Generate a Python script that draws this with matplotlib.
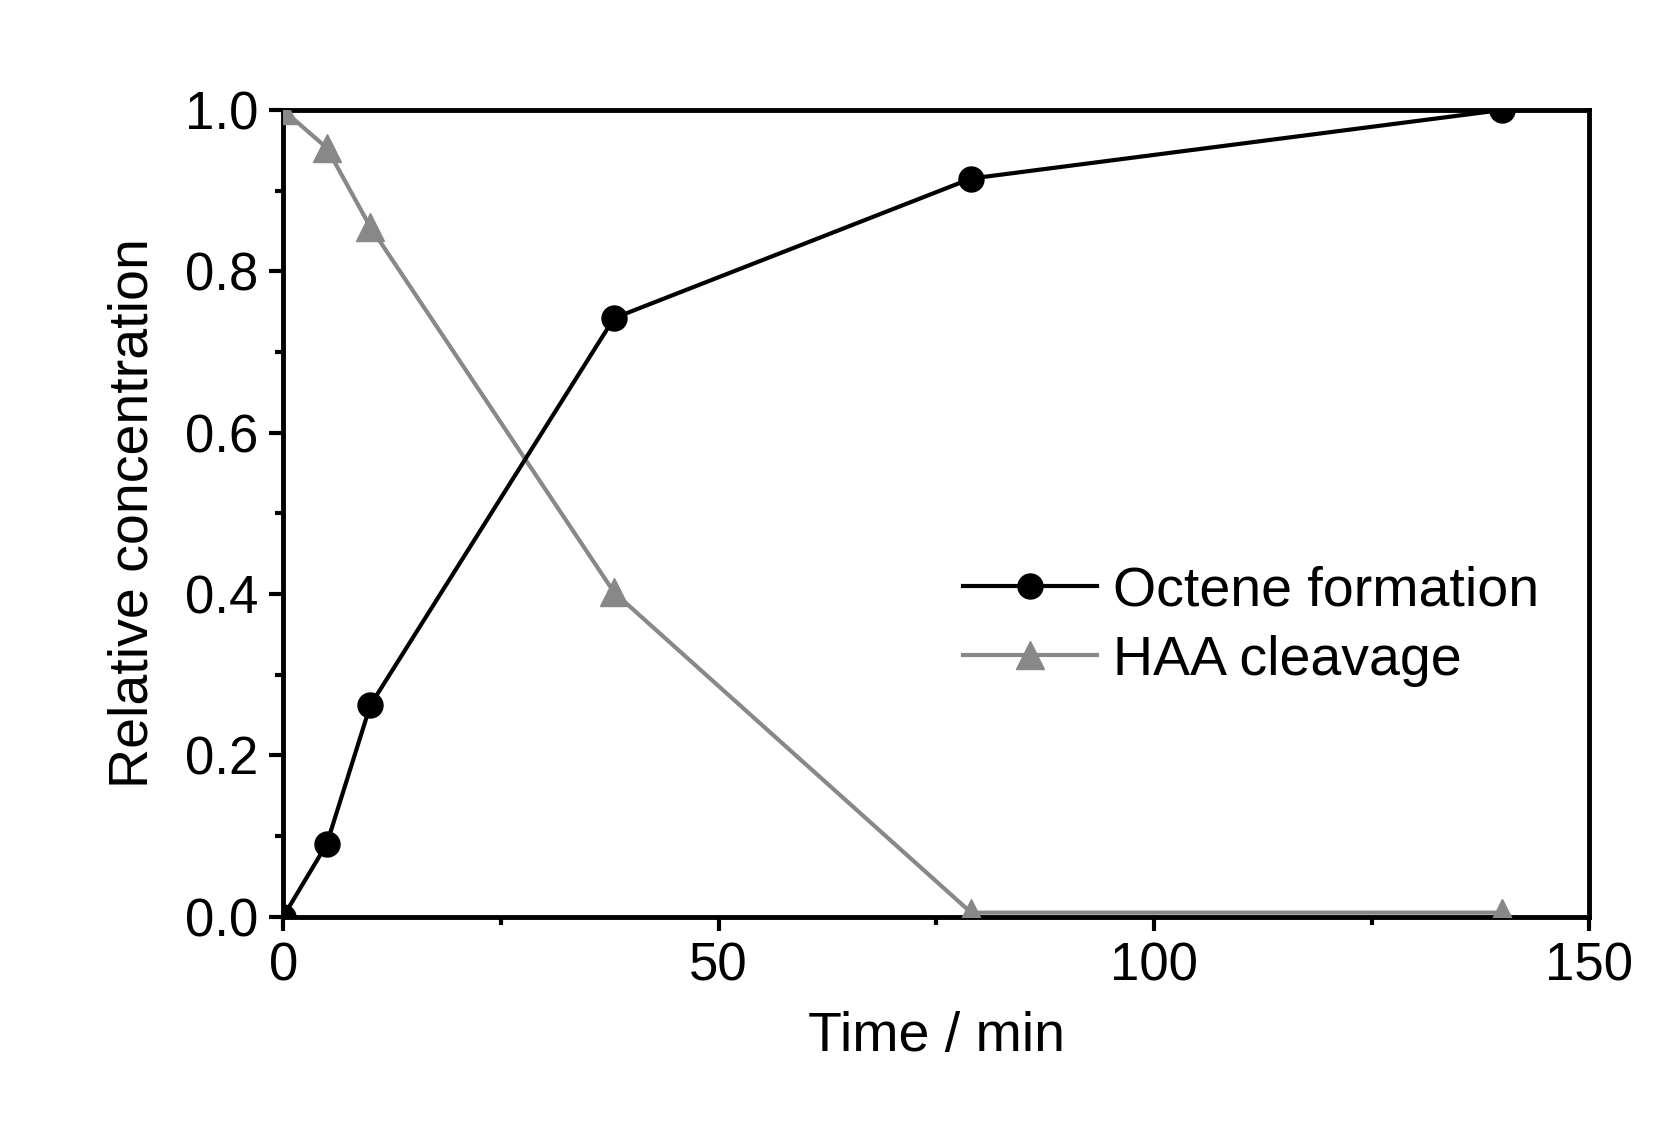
import matplotlib
matplotlib.use('Agg')
import matplotlib.pyplot as plt
from matplotlib.ticker import MultipleLocator

plt.rcParams['font.family'] = ['Liberation Sans', 'DejaVu Sans']

time_min = [0, 5, 10, 38, 79, 140]
octene = [0.0, 0.09, 0.262, 0.742, 0.915, 1.0]
haa = [1.0, 0.953, 0.855, 0.402, 0.005, 0.005]

fig = plt.figure(figsize=(16.66, 11.22), dpi=100)
ax = fig.add_axes([0.17, 0.183, 0.784, 0.719])

ax.plot(time_min, haa, '-', color='#888888', lw=3, marker='^', ms=20,
        mfc='#888888', mec='#888888', label='HAA cleavage', zorder=3)
ax.plot(time_min, octene, '-', color='black', lw=3, marker='o', ms=18,
        mfc='black', mec='black', label='Octene formation', zorder=4)

ax.set_xlim(0, 150)
ax.set_ylim(0, 1.0)
ax.xaxis.set_major_locator(MultipleLocator(50))
ax.xaxis.set_minor_locator(MultipleLocator(25))
ax.yaxis.set_major_locator(MultipleLocator(0.2))
ax.yaxis.set_minor_locator(MultipleLocator(0.1))
ax.yaxis.set_major_formatter(plt.FormatStrFormatter('%.1f'))
ax.tick_params(which='both', direction='out', width=3, labelsize=38, pad=8)
ax.tick_params(which='major', length=10)
ax.tick_params(which='minor', length=6)
for s in ax.spines.values():
    s.set_linewidth(3.5)

ax.set_xlabel('Time / min', fontsize=40, labelpad=14)
ax.set_ylabel('Relative concentration', fontsize=40, labelpad=18)

h, l = ax.get_legend_handles_labels()
ax.legend(h[::-1], l[::-1], loc='center right', bbox_to_anchor=(1.0, 0.36),
          frameon=False, fontsize=40, handlelength=2.4, handletextpad=0.3,
          labelspacing=0.3)

fig.savefig('out.png', dpi=100)
